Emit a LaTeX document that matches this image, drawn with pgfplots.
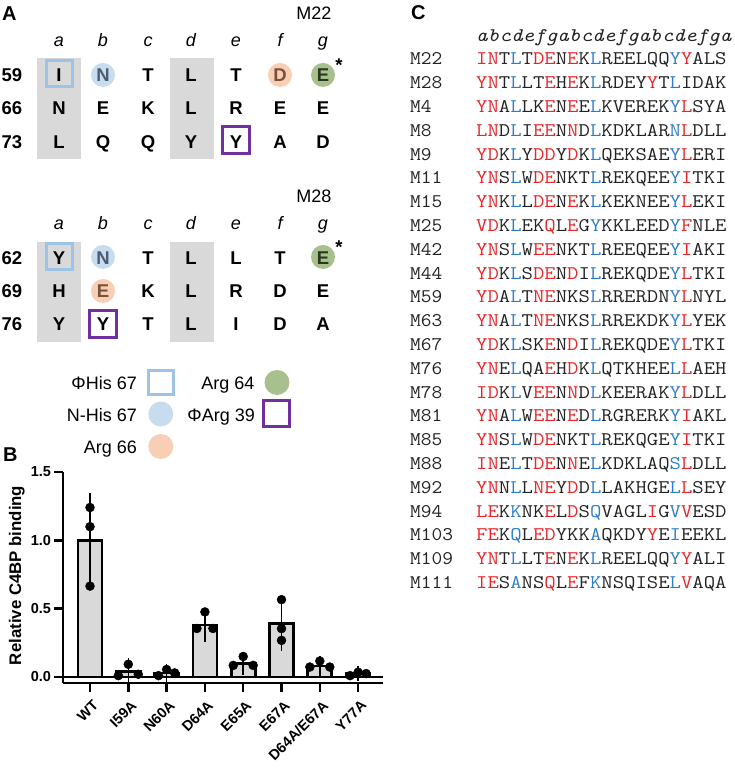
\documentclass[border=0pt]{standalone}
\usepackage{pgfplots}
\pgfplotsset{compat=1.18}
\usepackage{graphicx}
\usepackage{fontspec}
\setmainfont{Liberation Sans}
\definecolor{seqred}{RGB}{232,38,42}
\definecolor{seqblue}{RGB}{45,125,200}
\definecolor{seqblack}{RGB}{35,35,35}
\definecolor{cellgray}{RGB}{217,217,217}
\definecolor{hisblue}{RGB}{157,195,230}
\definecolor{circblue}{RGB}{200,220,240}
\definecolor{circorange}{RGB}{248,206,180}
\definecolor{circgreen}{RGB}{168,192,142}
\definecolor{argpurple}{RGB}{112,48,160}
\definecolor{barfill}{RGB}{217,217,217}
\definecolor{ltrblue}{RGB}{75,92,112}
\definecolor{ltrorange}{RGB}{120,80,60}
\definecolor{ltrgreen}{RGB}{40,55,30}
\newcommand\rd[1]{\textcolor{seqred}{#1}}
\newcommand\bl[1]{\textcolor{seqblue}{#1}}
\tikzset{
 albl/.style={anchor=base, inner sep=0pt, font=\fontsize{18.5bp}{20bp}\selectfont\bfseries},
 ahdr/.style={anchor=base, inner sep=0pt, font=\fontsize{18bp}{20bp}\selectfont\itshape},
 atxt/.style={inner sep=0pt, font=\fontsize{18bp}{20bp}\selectfont},
 plbl/.style={anchor=base west, inner sep=0pt, font=\fontsize{20bp}{22bp}\selectfont\bfseries},
 mono/.style={anchor=base west, inner sep=0pt, font=\fontsize{19.3bp}{21bp}\selectfont\ttfamily, text=seqblack},
}
\newcommand\Arow[8]{%
 \node[albl] at (59,#1) {#2};
 \node[albl] at (103,#1) {#3};
 \node[albl] at (148,#1) {#4};
 \node[albl] at (191,#1) {#5};
 \node[albl] at (236,#1) {#6};
 \node[albl] at (280,#1) {#7};
 \node[albl] at (323,#1) {#8};
}
\newcommand\Ahdr[1]{%
 \node[ahdr] at (59,#1) {a};
 \node[ahdr] at (103,#1) {b};
 \node[ahdr] at (148,#1) {c};
 \node[ahdr] at (191,#1) {d};
 \node[ahdr] at (236,#1) {e};
 \node[ahdr] at (280,#1) {f};
 \node[ahdr] at (323,#1) {g};
}
\newcommand\Crow[3]{%
 \node[mono] at (410,{65+23.8*#1}) {\scalebox{1.08}[1]{#2}};
 \node[mono] at (476,{65+23.8*#1}) {\scalebox{1.145}[1]{#3}};
}
\begin{document}
\begin{tikzpicture}
\path[use as bounding box] (0,0) rectangle (735bp,771bp);
\begin{scope}[x=1bp,y=-1bp,yshift=771bp]
% ---------- Panel A ----------
\node[plbl] at (2,21) {A};
\node[atxt, anchor=base] at (314,20) {M22};
\node[atxt, anchor=base] at (314,203) {M28};
\fill[cellgray] (37,58) rectangle (81,159);
\fill[cellgray] (170,58) rectangle (214,159);
\fill[cellgray] (37,242) rectangle (81,342);
\fill[cellgray] (170,242) rectangle (214,342);
\fill[circblue] (103,75) circle (12);
\fill[circorange] (280,75) circle (12);
\fill[circgreen] (323,75) circle (12);
\fill[circblue] (103,257) circle (12);
\fill[circgreen] (323,257) circle (12);
\fill[circorange] (103,291) circle (12);
\draw[hisblue, line width=3bp] (46,61) rectangle (72,87);
\draw[argpurple, line width=3bp] (222,127) rectangle (249,154);
\draw[hisblue, line width=3bp] (46,244) rectangle (72,270);
\draw[argpurple, line width=3bp] (89,311) rectangle (116,338);
\Ahdr{47}
\Ahdr{230}
\Arow{81.5}{I}{\textcolor{ltrblue}{N}}{T}{L}{T}{\textcolor{ltrorange}{D}}{\textcolor{ltrgreen}{E}}
\Arow{115}{N}{E}{K}{L}{R}{E}{E}
\Arow{148.5}{L}{Q}{Q}{Y}{Y}{A}{D}
\Arow{264.5}{Y}{\textcolor{ltrblue}{N}}{T}{L}{L}{T}{\textcolor{ltrgreen}{E}}
\Arow{298}{H}{\textcolor{ltrorange}{E}}{K}{L}{R}{D}{E}
\Arow{331}{Y}{Y}{T}{L}{I}{D}{A}
\node[albl] at (339,72) {*};
\node[albl] at (339,254) {*};
\node[albl] at (12,81.5) {59};
\node[albl] at (12,115) {66};
\node[albl] at (12,148.5) {73};
\node[albl] at (12,264.5) {62};
\node[albl] at (12,298) {69};
\node[albl] at (12,331) {76};
% legend
\node[atxt, anchor=base east] at (137,390) {ΦHis 67};
\node[atxt, anchor=base east] at (137,421.7) {N-His 67};
\node[atxt, anchor=base east] at (137,453.3) {Arg 66};
\node[atxt, anchor=base east] at (254.5,390) {Arg 64};
\node[atxt, anchor=base east] at (255,421.7) {ΦArg 39};
\draw[hisblue, line width=3bp] (148.5,371) rectangle (173.5,395);
\fill[circblue] (160.8,414) circle (12.5);
\fill[circorange] (160.8,446.5) circle (12.5);
\fill[circgreen] (277,382.5) circle (12.5);
\draw[argpurple, line width=3bp] (263.5,401) rectangle (289.5,426.5);
% ---------- Panel B label ----------
\node[plbl] at (3,462) {B};
% ---------- Panel C ----------
\node[plbl] at (411,20) {C};
\node[mono, font=\fontsize{19.3bp}{21bp}\selectfont\ttfamily\itshape] at (476,42) {\scalebox{1.145}[1]{abcdefgabcdefgabcdefga}};
\Crow{0}{M22}{\rd{IN}T\bl{L}T\rd{DE}N\rd{E}K\bl{L}REELQQ\bl{Y}\rd{Y}ALS}
\Crow{1}{M28}{\rd{YN}T\bl{L}LT\rd{E}H\rd{E}K\bl{L}RDEY\rd{Y}T\bl{L}IDAK}
\Crow{2}{M4}{\rd{YN}A\bl{L}LK\rd{E}N\rd{E}E\bl{L}KVEREK\bl{Y}\rd{L}SYA}
\Crow{3}{M8}{\rd{LN}D\bl{L}I\rd{EE}N\rd{N}D\bl{L}KDKLAR\bl{N}\rd{L}DLL}
\Crow{4}{M9}{\rd{YD}K\bl{L}Y\rd{DD}Y\rd{D}K\bl{L}QEKSAE\bl{Y}\rd{L}ERI}
\Crow{5}{M11}{\rd{YN}S\bl{L}W\rd{DE}NKT\bl{L}REKQEE\bl{Y}\rd{I}TKI}
\Crow{6}{M15}{\rd{YN}K\bl{L}L\rd{DE}N\rd{E}K\bl{L}KEKNEE\bl{Y}\rd{L}EKI}
\Crow{7}{M25}{\rd{VD}K\bl{L}EK\rd{Q}L\rd{E}G\bl{Y}KKLEED\bl{Y}\rd{F}NLE}
\Crow{8}{M42}{\rd{YN}S\bl{L}W\rd{EE}NKT\bl{L}REEQEE\bl{Y}\rd{I}AKI}
\Crow{9}{M44}{\rd{YD}K\bl{L}S\rd{DE}N\rd{D}I\bl{L}REKQDE\bl{Y}\rd{L}TKI}
\Crow{10}{M59}{\rd{YD}A\bl{L}T\rd{NE}NKS\bl{L}RRERDN\bl{Y}\rd{L}NYL}
\Crow{11}{M63}{\rd{YN}A\bl{L}T\rd{NE}NKS\bl{L}RREKDK\bl{Y}\rd{L}YEK}
\Crow{12}{M67}{\rd{YD}K\bl{L}SK\rd{E}N\rd{D}I\bl{L}REKQDE\bl{Y}\rd{L}TKI}
\Crow{13}{M76}{\rd{YN}E\bl{L}QA\rd{E}H\rd{D}K\bl{L}QTKHEE\bl{L}\rd{L}AEH}
\Crow{14}{M78}{\rd{ID}K\bl{L}V\rd{EE}N\rd{N}D\bl{L}KEERAK\bl{Y}\rd{L}DLL}
\Crow{15}{M81}{\rd{YN}A\bl{L}W\rd{EE}N\rd{E}D\bl{L}RGRERK\bl{Y}\rd{I}AKL}
\Crow{16}{M85}{\rd{YN}S\bl{L}W\rd{DE}NKT\bl{L}REKQGE\bl{Y}\rd{I}TKI}
\Crow{17}{M88}{\rd{IN}E\bl{L}T\rd{DE}N\rd{N}E\bl{L}KDKLAQ\bl{S}\rd{L}DLL}
\Crow{18}{M92}{\rd{YN}N\bl{L}L\rd{NE}Y\rd{D}D\bl{L}LAKHGE\bl{L}\rd{L}SEY}
\Crow{19}{M94}{\rd{LE}K\bl{K}NK\rd{E}L\rd{D}S\bl{Q}VAGL\rd{I}G\bl{V}\rd{V}ESD}
\Crow{20}{M103}{\rd{FE}K\bl{Q}L\rd{ED}YKK\bl{A}QKDY\rd{Y}E\bl{I}EEKL}
\Crow{21}{M109}{\rd{YN}T\bl{L}LT\rd{E}N\rd{E}K\bl{L}REELQQ\bl{Y}\rd{Y}ALI}
\Crow{22}{M111}{\rd{IE}S\bl{A}NS\rd{Q}L\rd{E}F\bl{K}NSQISE\bl{L}\rd{V}AQA}
\end{scope}
% ---------- Panel B ----------
\begin{axis}[
 at={(63bp,88bp)}, anchor=south west,
 scale only axis, width=320bp, height=211bp,
 xmin=-0.705, xmax=7.65, ymin=-0.0439, ymax=1.5,
 axis x line*=bottom, axis y line*=left,
 axis line style={line width=2.5bp, -},
 xtick={0,1,2,3,4,5,6,7},
 xticklabels={WT,I59A,N60A,D64A,E65A,E67A,D64A/E67A,Y77A},
 ytick={0,0.5,1,1.5}, yticklabels={0.0,0.5,1.0,1.5},
 tick align=outside, major tick length=8.5bp,
 tick style={line width=2.5bp, black},
 tick label style={font=\fontsize{14.5bp}{16bp}\selectfont\bfseries},
 xticklabel style={yshift=-7bp, xshift=2bp, rotate=45, anchor=north east, inner sep=0.5bp},
 every axis y label/.style={at={(axis description cs:-0.144,0.51)}, rotate=90, anchor=center},
 ylabel={Relative C4BP binding},
 ylabel style={font=\fontsize{16.8bp}{18bp}\selectfont\bfseries},
 clip=false,
]
\addplot[line width=2.5bp, black, forget plot] coordinates {(-0.705,0) (7.65,0)};
\addplot[ybar, bar width=24bp, fill=barfill, draw=black, line width=2.7bp,
 error bars/.cd, y dir=both, y explicit,
 error bar style={line width=1.5bp, black},
 error mark options={line width=1.5bp, mark size=6.5bp, black}]
 table[x=x, y=y, y error plus=ep, y error minus=em] {
 x y ep em
 0 1.00 0.30 0.30
 1 0.04 0.048 0.04
 2 0.03 0.02 0.02
 3 0.38 0.075 0.075
 4 0.10 0.035 0.035
 5 0.39 0.155 0.155
 6 0.08 0.025 0.025
 7 0.025 0.008 0.008
 };
\addplot[only marks, mark=*, mark size=4.5bp, black] coordinates {
 (0,1.24) (0,1.10) (0,0.665)
 (0.74,0.01) (1,0.093) (1.26,0.02)
 (1.79,0.01) (2,0.055) (2.21,0.03)
 (3,0.476) (2.79,0.355) (3.21,0.355)
 (4,0.15) (3.74,0.085) (4.26,0.085)
 (5,0.566) (5,0.354) (5,0.268)
 (6,0.117) (5.74,0.073) (6.26,0.073)
 (6.79,0.01) (7,0.035) (7.21,0.025)
};
\end{axis}
\end{tikzpicture}
\end{document}
